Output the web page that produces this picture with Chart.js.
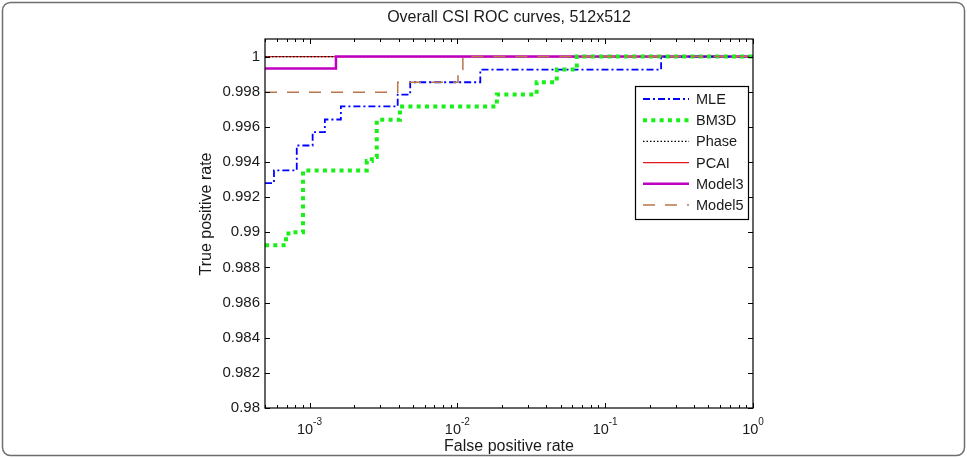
<!DOCTYPE html>
<html>
<head>
<meta charset="utf-8">
<script src="https://cdn.jsdelivr.net/npm/chart.js@4.4.0/dist/chart.umd.min.js"></script>
<style>
  html, body { margin: 0; padding: 0; background: #fff; }
  canvas { display: block; }
</style>
</head>
<body>
<canvas id="roc" width="967" height="458"></canvas>
<script>
// values (stepped ROC curves)
const seriesNames = ['MLE', 'BM3D', 'Phase', 'PCAI', 'Model3', 'Model5'];

const mleFpr = [5e-4, 5.75e-4, 8.2e-4, 1.05e-3, 1.27e-3, 1.63e-3, 3.95e-3, 4.8e-3, 0.0143, 0.239, 1];
const mleTpr = [0.9928, 0.99352, 0.99494, 0.9957, 0.99642, 0.99716, 0.99784, 0.99854, 0.99926, 1, 1];

const bm3dFpr = [5e-4, 6.93e-4, 7.77e-4, 9.04e-4, 2.44e-3, 2.64e-3, 2.85e-3, 4.09e-3, 0.0185, 0.0344, 0.0471, 0.0643, 1];
const bm3dTpr = [0.98926, 0.98993, 0.99, 0.99352, 0.99405, 0.99428, 0.9964, 0.99716, 0.99784, 0.99854, 0.99926, 1, 1];

const phaseFpr = [5e-4, 1];
const phaseTpr = [1, 1];

const pcaiFpr = [5e-4, 1];
const pcaiTpr = [1, 1];

const model3Fpr = [5e-4, 1.51e-3, 1];
const model3Tpr = [0.99932, 1, 1];

const model5Fpr = [5e-4, 3.95e-3, 0.0101, 0.0109, 1];
const model5Tpr = [0.99797, 0.99854, 0.99926, 1, 1];

const xTickValues = [1e-3, 1e-2, 1e-1, 1];
const xTickExponents = ['-3', '-2', '-1', '0'];
const yTickValues = [0.98, 0.982, 0.984, 0.986, 0.988, 0.99, 0.992, 0.994, 0.996, 0.998, 1];
const yTickLabels = ['0.98', '0.982', '0.984', '0.986', '0.988', '0.99', '0.992', '0.994', '0.996', '0.998', '1'];

const FONT = '"Liberation Sans", Arial, Helvetica, sans-serif';

function pts(xs, ys) {
  return xs.map((x, i) => ({ x: x, y: ys[i] }));
}

const styles = {
  MLE:    { color: '#0000ff', width: 1.8, dash: [7, 3, 2, 3], order: 2 },
  BM3D:   { color: '#19f019', width: 4,   dash: [4, 4.3],     order: 1 },
  Phase:  { color: '#000000', width: 1.2, dash: [1.5, 2],     order: 4 },
  PCAI:   { color: '#e01a1a', width: 1.2, dash: [],           order: 5 },
  Model3: { color: '#c000c0', width: 2.5, dash: [],           order: 3 },
  Model5: { color: '#b8764a', width: 1.5, dash: [12, 10],     order: 0 }
};

const seriesData = {
  MLE: pts(mleFpr, mleTpr),
  BM3D: pts(bm3dFpr, bm3dTpr),
  Phase: pts(phaseFpr, phaseTpr),
  PCAI: pts(pcaiFpr, pcaiTpr),
  Model3: pts(model3Fpr, model3Tpr),
  Model5: pts(model5Fpr, model5Tpr)
};

const datasets = seriesNames.map(name => ({
  label: name,
  data: seriesData[name],
  borderColor: styles[name].color,
  borderWidth: styles[name].width,
  borderDash: styles[name].dash,
  order: styles[name].order,
  stepped: true,
  fill: false,
  pointRadius: 0,
  tension: 0
}));

// matlab style frame, inward ticks, labels and legend box
const matlabLook = {
  id: 'matlabLook',
  beforeDraw(chart) {
    const ctx = chart.ctx;
    ctx.save();
    ctx.fillStyle = '#fff';
    ctx.fillRect(0, 0, chart.width, chart.height);
    ctx.strokeStyle = '#6e6e6e';
    ctx.lineWidth = 1.5;
    ctx.beginPath();
    ctx.roundRect(2.5, 2.5, chart.width - 5, chart.height - 5, 8);
    ctx.stroke();
    ctx.restore();
  },
  afterDatasetsDraw(chart) {
    const ctx = chart.ctx;
    const a = chart.chartArea;
    const xs = chart.scales.x, ys = chart.scales.y;
    ctx.save();

    // axes box
    ctx.strokeStyle = '#000';
    ctx.lineWidth = 1.2;
    ctx.strokeRect(a.left, a.top, a.right - a.left, a.bottom - a.top);

    // x ticks (major + minor log ticks), bottom and top
    ctx.lineWidth = 1;
    ctx.beginPath();
    for (let k = -4; k <= 0; k++) {
      for (let m = 1; m <= 9; m++) {
        const v = m * Math.pow(10, k);
        if (v < xs.min * 0.999 || v > xs.max * 1.001) continue;
        const px = Math.round(xs.getPixelForValue(v)) + 0.5;
        const len = m === 1 ? 5 : 3;
        ctx.moveTo(px, a.bottom); ctx.lineTo(px, a.bottom - len);
        ctx.moveTo(px, a.top); ctx.lineTo(px, a.top + len);
      }
    }
    // y ticks left and right
    yTickValues.forEach(v => {
      const py = Math.round(ys.getPixelForValue(v)) + 0.5;
      ctx.moveTo(a.left, py); ctx.lineTo(a.left + 5, py);
      ctx.moveTo(a.right, py); ctx.lineTo(a.right - 5, py);
    });
    ctx.stroke();

    ctx.fillStyle = '#1a1a1a';
    // y tick labels
    ctx.font = '15px ' + FONT;
    ctx.textAlign = 'right';
    ctx.textBaseline = 'middle';
    yTickValues.forEach((v, i) => {
      ctx.fillText(yTickLabels[i], a.left - 5, ys.getPixelForValue(v));
    });

    // x tick labels 10^k
    xTickValues.forEach((v, i) => {
      const px = xs.getPixelForValue(v);
      ctx.font = '14.5px ' + FONT;
      const wb = ctx.measureText('10').width;
      ctx.font = '10px ' + FONT;
      const we = ctx.measureText(xTickExponents[i]).width;
      const x0 = px - (wb + we) / 2;
      ctx.textAlign = 'left';
      ctx.font = '14.5px ' + FONT;
      ctx.fillText('10', x0, a.bottom + 22);
      ctx.font = '10px ' + FONT;
      ctx.fillText(xTickExponents[i], x0 + wb, a.bottom + 14);
    });

    // title and axis labels
    const cx = (a.left + a.right) / 2;
    ctx.textAlign = 'center';
    ctx.font = '16px ' + FONT;
    ctx.fillText('Overall CSI ROC curves, 512x512', cx, 18);
    ctx.fillText('False positive rate', cx, 447);
    ctx.save();
    ctx.translate(207, 214);
    ctx.rotate(-Math.PI / 2);
    ctx.fillText('True positive rate', 0, 0);
    ctx.restore();

    // legend
    const lx = 635.5, ly = 86.5, lw = 113, lh = 133;
    ctx.fillStyle = '#fff';
    ctx.fillRect(lx, ly, lw, lh);
    ctx.strokeStyle = '#000';
    ctx.lineWidth = 1.2;
    ctx.strokeRect(lx, ly, lw, lh);
    ctx.font = '14.5px ' + FONT;
    ctx.textAlign = 'left';
    seriesNames.forEach((name, i) => {
      const y = 99 + i * 21.2;
      const s = styles[name];
      ctx.save();
      ctx.strokeStyle = s.color;
      ctx.lineWidth = s.width;
      ctx.setLineDash(s.dash);
      ctx.beginPath();
      ctx.moveTo(643, y);
      ctx.lineTo(689, y);
      ctx.stroke();
      ctx.restore();
      ctx.fillStyle = '#1a1a1a';
      ctx.fillText(name, 696, y + 1);
    });
    ctx.restore();
  }
};

new Chart(document.getElementById('roc'), {
  type: 'line',
  data: { datasets: datasets },
  options: {
    responsive: false,
    animation: false,
    events: [],
    layout: { padding: { left: 265, top: 39, right: 214, bottom: 50 } },
    scales: {
      x: { type: 'logarithmic', min: 5e-4, max: 1, display: false },
      y: { type: 'linear', min: 0.98, max: 1.001, display: false }
    },
    plugins: {
      legend: { display: false },
      title: { display: false },
      tooltip: { enabled: false }
    }
  },
  plugins: [matlabLook]
});
</script>
</body>
</html>
